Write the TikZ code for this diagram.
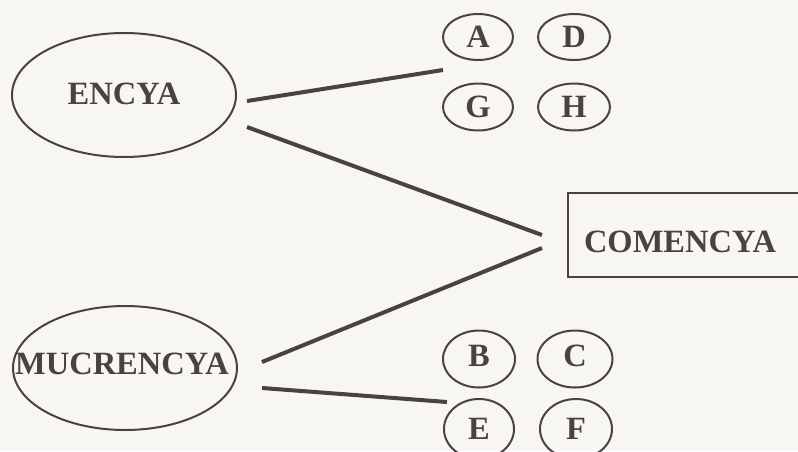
\documentclass[tikz,border=0pt]{standalone}
\usepackage{fontspec}
\setmainfont{Liberation Serif}
\usetikzlibrary{shapes.geometric}
\definecolor{ink}{HTML}{4A4242}
\definecolor{paper}{HTML}{F8F6F3}
\tikzset{
  bigell/.style={ellipse, draw=ink, line width=2pt, minimum width=224pt, minimum height=124pt, inner sep=0pt},
  smallell/.style={ellipse, draw=ink, line width=2pt, inner sep=0pt},
  lbl/.style={text=ink, font=\fontsize{32.5}{32.5}\selectfont\bfseries, inner sep=0pt},
  conn/.style={draw=ink, line width=4pt},
  boxnode/.style={rectangle, draw=ink, line width=2.4pt, inner sep=0pt}
}
\begin{document}
\begin{tikzpicture}[x=1pt,y=-1pt]
\useasboundingbox (0,0) rectangle (798,451);
\fill[paper] (0,0) rectangle (798,451);
\clip (0,0) rectangle (798,451);
% big ellipses
\node[bigell] (enc) at (124,95) {};
\node[lbl] (enct) at (124,94) {ENCYA};
\node[bigell] (muc) at (125,368) {};
\node[lbl] (muct) at (122,364) {MUCRENCYA};
% box
\node[boxnode, minimum width=262pt, minimum height=84pt] (com) at (699,235) {};
\node[lbl] (comt) at (680,242) {COMENCYA};
% small ellipses
\node[smallell, minimum width=70pt, minimum height=46pt] (A) at (478,37) {};
\node[lbl] at (A.center) {A};
\node[smallell, minimum width=72pt, minimum height=46pt] (D) at (574,37) {};
\node[lbl] at (D.center) {D};
\node[smallell, minimum width=70pt, minimum height=47pt] (G) at (478,107) {};
\node[lbl] at (G.center) {G};
\node[smallell, minimum width=72pt, minimum height=47pt] (H) at (574,107) {};
\node[lbl] at (H.center) {H};
\node[smallell, minimum width=72pt, minimum height=57pt] (B) at (479,359) {};
\node[lbl] at ([yshift=3pt]B.center) {B};
\node[smallell, minimum width=75pt, minimum height=57pt] (C) at (575,359) {};
\node[lbl] at ([yshift=3pt]C.center) {C};
\node[smallell, minimum width=70pt, minimum height=60pt] (E) at (479,429) {};
\node[lbl] at (E.center) {E};
\node[smallell, minimum width=72pt, minimum height=60pt] (F) at (576,429) {};
\node[lbl] at (F.center) {F};
% connector end points
\coordinate (e1) at (247,101);
\coordinate (a1) at (443,70);
\coordinate (e2) at (247,127);
\coordinate (c1) at (542,235);
\coordinate (m1) at (262,362);
\coordinate (c2) at (542,248);
\coordinate (m2) at (262,388);
\coordinate (x1) at (447,402);
\draw[conn] (e1) -- (a1);
\draw[conn] (e2) -- (c1);
\draw[conn] (m1) -- (c2);
\draw[conn] (m2) -- (x1);
\end{tikzpicture}
\end{document}
